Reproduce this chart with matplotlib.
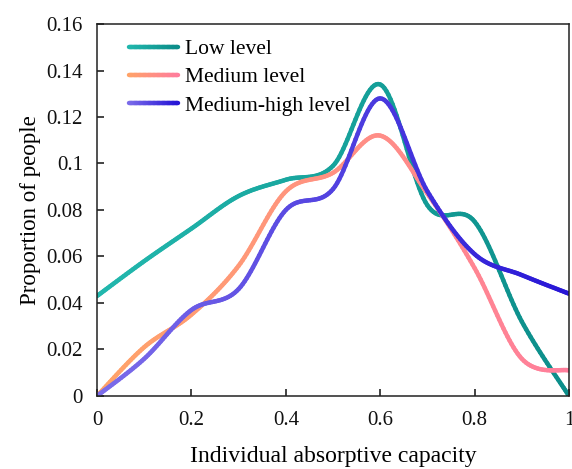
import numpy as np
import matplotlib
matplotlib.use('Agg')
import matplotlib.pyplot as plt
from matplotlib.collections import LineCollection
from matplotlib.colors import LinearSegmentedColormap
from matplotlib.legend_handler import HandlerBase

# values
capacity = [0.0, 0.1, 0.2, 0.3, 0.4, 0.5, 0.6, 0.7, 0.8, 0.9, 1.0]
low_level = [0.043, 0.058, 0.072, 0.086, 0.093, 0.099, 0.134, 0.082, 0.075, 0.032, 0.0]
medium_level = [0.0, 0.021, 0.035, 0.056, 0.088, 0.096, 0.112, 0.087, 0.055, 0.016, 0.011]
medium_high_level = [0.0, 0.016, 0.037, 0.046, 0.080, 0.089, 0.128, 0.088, 0.061, 0.052, 0.044]

series_names = ['Low level', 'Medium level', 'Medium-high level']
gradients = [('#22B8AE', '#0C8E8A'), ('#FFA468', '#FF7E9C'), ('#7D6EEA', '#2716D6')]
LW = 3.2

plt.rcParams['font.family'] = ['Liberation Serif', 'DejaVu Serif']


def smooth(x, y, n=24):
    # Excel-like smoothed line: cubic Bezier with control points from neighbours
    p = np.column_stack([x, y]).astype(float)
    out = [p[0]]
    t = np.linspace(0, 1, n)[1:, None]
    for i in range(len(p) - 1):
        p0 = p[i - 1] if i > 0 else p[i]
        p3 = p[i + 2] if i + 2 < len(p) else p[i + 1]
        c1 = p[i] + (p[i + 1] - p0) / 6
        c2 = p[i + 1] - (p3 - p[i]) / 6
        seg = ((1 - t) ** 3) * p[i] + 3 * ((1 - t) ** 2) * t * c1 + 3 * (1 - t) * t ** 2 * c2 + t ** 3 * p[i + 1]
        out.extend(seg)
    return np.array(out)


def gradient_line(xy, cmap, **kw):
    pts = xy.reshape(-1, 1, 2)
    segs = np.concatenate([pts[:-1], pts[1:]], axis=1)
    lc = LineCollection(segs, cmap=cmap, linewidth=LW, capstyle='round', **kw)
    lc.set_array(np.linspace(0, 1, len(segs)))
    return lc


class GradientHandler(HandlerBase):
    def create_artists(self, legend, orig_handle, xdescent, ydescent, width, height, fontsize, trans):
        xs = np.linspace(-xdescent, width - xdescent, 40)
        ys = np.full_like(xs, height / 2 - ydescent)
        lc = gradient_line(np.column_stack([xs, ys]), orig_handle.get_cmap(), transform=trans)
        return [lc]


fig = plt.figure(figsize=(5.72, 4.69), dpi=100)
ax = fig.add_axes([0.1696, 0.1557, 0.8252, 0.7931])

handles = []
for vals, (c0, c1) in zip([low_level, medium_level, medium_high_level], gradients):
    cmap = LinearSegmentedColormap.from_list('g', [c0, c1])
    lc = gradient_line(smooth(capacity, vals), cmap)
    ax.add_collection(lc)
    handles.append(lc)

ax.set_xlim(0, 1)
ax.set_ylim(0, 0.16)
ax.set_xticks([0, 0.2, 0.4, 0.6, 0.8, 1])
ax.set_xticklabels(['0', '0.2', '0.4', '0.6', '0.8', '1'])
ax.set_yticks(np.arange(0, 0.161, 0.02))
ax.set_yticklabels(['0', '0.02', '0.04', '0.06', '0.08', '0.1', '0.12', '0.14', '0.16'])
ax.tick_params(direction='in', length=5, width=1.1, labelsize=15, colors='#111111')
ax.tick_params(axis='x', pad=11)
ax.tick_params(axis='y', pad=10)
for s in ax.spines.values():
    s.set_linewidth(1.1)
    s.set_color('#222222')

ax.set_xlabel('Individual absorptive capacity', fontsize=17, labelpad=11)
ax.set_ylabel('Proportion of people', fontsize=16.5, labelpad=4)

ax.legend(handles, series_names, handler_map={LineCollection: GradientHandler()},
          loc='upper left', bbox_to_anchor=(0.035, 1.0), frameon=False, fontsize=15.5,
          handlelength=2.3, handletextpad=0.3, labelspacing=0.38, borderaxespad=0.3)

plt.savefig('out.png', dpi=100)
plt.close()
